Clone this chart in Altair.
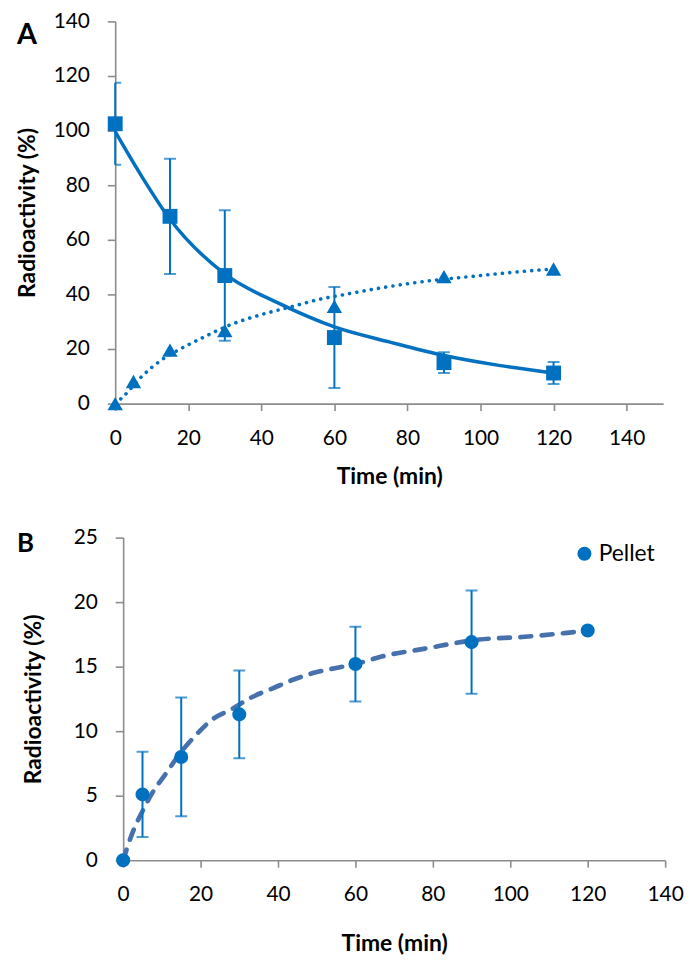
import altair as alt
import pandas as pd

# ---------------- data ----------------
# Panel A: squares (with error bars) and triangles
time_sq = [0, 15, 30, 60, 90, 120]
sq_mean = [102.5, 68.6, 46.9, 24.2, 15.0, 11.2]
sq_err = [15.0, 21.1, 23.9, 18.5, 3.8, 4.0]

time_tri = [0, 5, 15, 30, 60, 90, 120]
tri_mean = [0, 8.1, 19.6, 26.7, 35.6, 46.5, 49.3]

# fitted curves
fit_sq_t = [0, 7.5, 15, 30, 45, 60, 75, 90, 105, 120]
fit_sq_y = [99.6, 82.7, 67.5, 47.5, 36.6, 28.1, 22.6, 17.6, 14.0, 11.2]
fit_tri_t = [0, 2.3, 7.7, 12.7, 18.1, 24, 32, 40, 48, 56, 63, 77, 88, 97, 114, 120]
fit_tri_y = [0, 2.7, 10.5, 16.0, 20.2, 24.2, 29.1, 32.6, 35.4, 38.2, 40.0, 43.3, 45.3, 46.5, 48.7, 49.3]

# Panel B: pellet
time_b = [0, 5, 15, 30, 60, 90, 120]
pellet = [0, 5.1, 8.0, 11.3, 15.2, 16.9, 17.8]
pellet_err = [0, 3.3, 4.6, 3.4, 2.9, 4.0, 0]
fit_b_t = [0, 2.5, 5, 7.5, 11, 15, 18.5, 23, 28, 33, 38.5, 44, 49, 55, 60, 67, 78, 92, 103, 114, 120]
fit_b_y = [0, 2.2, 3.8, 5.2, 6.7, 8.4, 9.6, 10.9, 11.7, 12.6, 13.3, 14.0, 14.5, 14.9, 15.2, 15.8, 16.4, 17.1, 17.3, 17.6, 17.8]

series_b = ["Pellet"]
x_ticks_a = [0, 20, 40, 60, 80, 100, 120, 140]
y_ticks_a = [0, 20, 40, 60, 80, 100, 120, 140]
x_ticks_b = [0, 20, 40, 60, 80, 100, 120, 140]
y_ticks_b = [0, 5, 10, 15, 20, 25]

BLUE = "#0070C0"
DASH_BLUE = "#4671AD"
FONT = "Lato"

# ---------------- tables ----------------
df_sq = pd.DataFrame({"t": time_sq, "y": sq_mean, "err": sq_err})
df_sq["lo"] = df_sq["y"] - df_sq["err"]
df_sq["hi"] = df_sq["y"] + df_sq["err"]
caps_sq = pd.concat([df_sq[["t", "lo"]].rename(columns={"lo": "y"}),
                     df_sq[["t", "hi"]].rename(columns={"hi": "y"})])
df_tri = pd.DataFrame({"t": time_tri, "y": tri_mean})
df_fit_sq = pd.DataFrame({"t": fit_sq_t, "y": fit_sq_y})
df_fit_tri = pd.DataFrame({"t": fit_tri_t, "y": fit_tri_y})

df_b = pd.DataFrame({"t": time_b, "y": pellet, "err": pellet_err})
df_b["lo"] = df_b["y"] - df_b["err"]
df_b["hi"] = df_b["y"] + df_b["err"]
df_b_err = df_b[df_b["err"] > 0]
caps_b = pd.concat([df_b_err[["t", "lo"]].rename(columns={"lo": "y"}),
                    df_b_err[["t", "hi"]].rename(columns={"hi": "y"})])
df_fit_b = pd.DataFrame({"t": fit_b_t, "y": fit_b_y})
df_legend = pd.DataFrame({"series": series_b})

# ---------------- encodings ----------------
def axis(values, title, label_pad, title_pad, tick_size, offset=0):
    return alt.Axis(values=values, title=title, grid=False, labelPadding=label_pad,
                    titlePadding=title_pad, tickSize=tick_size, offset=offset)

# panel A: plot area 552 x 385
xs_a = alt.Scale(domain=[0, 150], nice=False, zero=False)
ys_a = alt.Scale(domain=[0, 140], nice=False)
# panel B: group starts 8px left of its y axis, so the axis is moved inward
xs_b = alt.Scale(domain=[0, 140], nice=False, zero=False, range=[8, 554])
ys_b = alt.Scale(domain=[0, 25], nice=False)

ax_xa = axis(x_ticks_a, "Time (min)", 17, 18, 7)
ax_ya = axis(y_ticks_a, "Radioactivity (%)", 18, 14, 8)
ax_xb = axis(x_ticks_b, "Time (min)", 17, 28, 7)
ax_yb = axis(y_ticks_b, "Radioactivity (%)", 18, 28, 8, offset=-8)

def XA(f="t"):
    return alt.X(f + ":Q", scale=xs_a, axis=ax_xa)

def YA(f="y"):
    return alt.Y(f + ":Q", scale=ys_a, axis=ax_ya)

def XB(f="t"):
    return alt.X(f + ":Q", scale=xs_b, axis=ax_xb)

def YB(f="y"):
    return alt.Y(f + ":Q", scale=ys_b, axis=ax_yb)

# ---------------- panel A ----------------
fit_sq_line = alt.Chart(df_fit_sq).mark_line(
    color=BLUE, strokeWidth=3.5, interpolate="monotone"
).encode(x=XA(), y=YA())
fit_tri_line = alt.Chart(df_fit_tri).mark_line(
    color=BLUE, strokeWidth=3.6, strokeDash=[0.1, 7.3], strokeCap="round", interpolate="monotone"
).encode(x=XA(), y=YA())
err_sq = alt.Chart(df_sq).mark_rule(color=BLUE, strokeWidth=2).encode(
    x=XA(), y=YA("lo"), y2="hi:Q")
caps_a = alt.Chart(caps_sq).mark_tick(
    color=BLUE, orient="horizontal", size=12, thickness=2, clip=True
).encode(x=XA(), y=YA())
pts_sq = alt.Chart(df_sq).mark_point(
    shape="square", filled=True, size=225, color=BLUE, opacity=1
).encode(x=XA(), y=YA())
pts_tri = alt.Chart(df_tri).mark_point(
    shape="triangle-up", filled=True, size=240, color=BLUE, opacity=1
).encode(x=XA(), y=YA())
label_a = alt.Chart(pd.DataFrame({"lab": ["A"]})).mark_text(
    align="left", baseline="alphabetic", fontSize=29, fontWeight="bold", font=FONT, color="#000"
).encode(x=alt.value(-99), y=alt.value(22.7), text="lab:N")

panel_a = alt.layer(fit_sq_line, fit_tri_line, err_sq, caps_a, pts_sq, pts_tri, label_a).properties(
    width=552, height=385)

# ---------------- panel B ----------------
fit_b_line = alt.Chart(df_fit_b).mark_line(
    color=DASH_BLUE, strokeWidth=4.7, strokeDash=[11, 10.5], strokeCap="round", interpolate="monotone"
).encode(x=XB(), y=YB())
err_b = alt.Chart(df_b_err).mark_rule(color=BLUE, strokeWidth=2).encode(
    x=XB(), y=YB("lo"), y2="hi:Q")
caps_bm = alt.Chart(caps_b).mark_tick(
    color=BLUE, orient="horizontal", size=12, thickness=2, clip=True
).encode(x=XB(), y=YB())
pts_b = alt.Chart(df_b).mark_point(
    shape="circle", filled=True, size=200, color=BLUE, opacity=1
).encode(x=XB(), y=YB())
legend_sym = alt.Chart(df_legend).mark_point(
    shape="circle", filled=True, size=200, color=BLUE, opacity=1
).encode(x=alt.value(472.7), y=alt.value(16.3))
legend_txt = alt.Chart(df_legend).mark_text(
    align="left", baseline="middle", fontSize=23, font=FONT, color="#000"
).encode(x=alt.value(487), y=alt.value(16.5), text="series:N")
label_b = alt.Chart(pd.DataFrame({"lab": ["B"]})).mark_text(
    align="left", baseline="alphabetic", fontSize=26, fontWeight="bold", font=FONT, color="#000"
).encode(x=alt.value(-99), y=alt.value(15), text="lab:N")

panel_b = alt.layer(fit_b_line, err_b, caps_bm, pts_b, legend_sym, legend_txt, label_b).properties(
    width=554, height=325)

chart = alt.vconcat(panel_a, panel_b, spacing=38).properties(
    padding={"left": 8, "top": -1, "right": 0, "bottom": 0}
).configure_view(stroke=None).configure_axis(
    domainColor="#8C8C8C", domainWidth=1.6, tickColor="#8C8C8C", tickWidth=1.6,
    labelFont=FONT, labelFontSize=21, labelColor="#000",
    titleFont=FONT, titleFontSize=23, titleFontWeight="bold", titleColor="#000",
    labelFlush=False, labelOverlap=False
).configure_axisY(titleAngle=-90)

chart.save("out.html", embed_options={"renderer": "svg", "actions": False})
